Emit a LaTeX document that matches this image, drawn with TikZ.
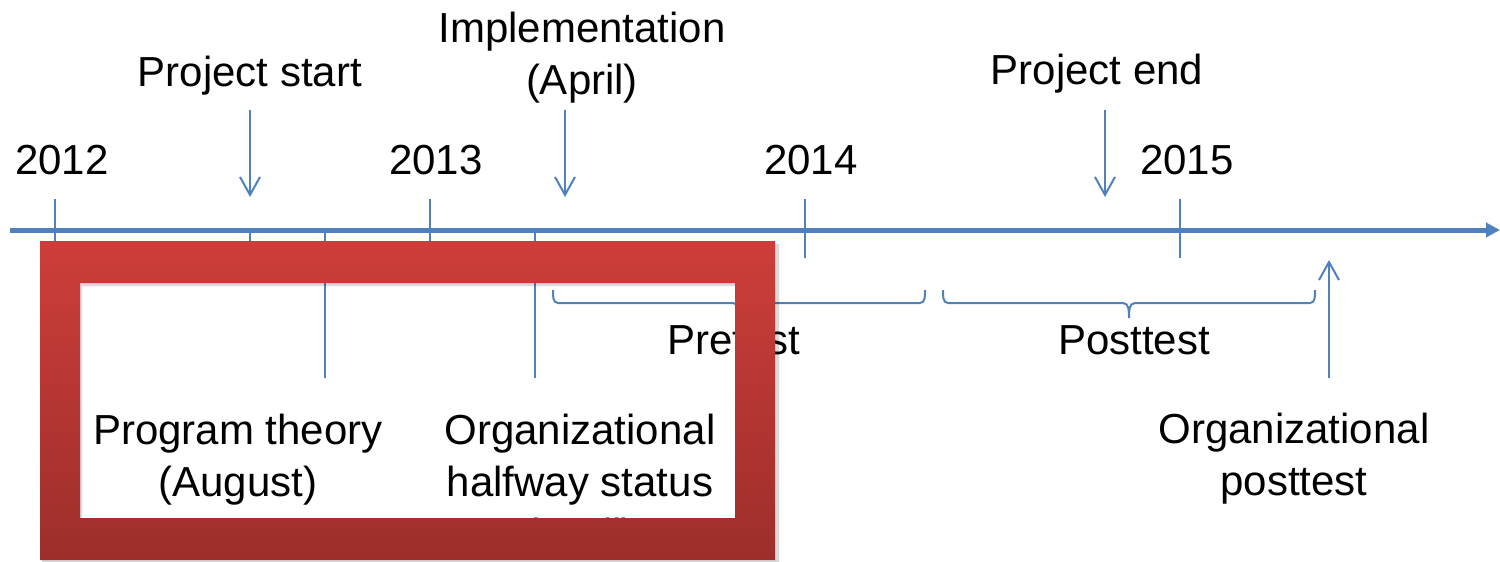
\documentclass[tikz,border=0pt]{standalone}
\usepackage{fontspec}
\setmainfont{Liberation Sans}
\usetikzlibrary{arrows.meta,calc}
\definecolor{lineblue}{HTML}{4F81BD}
\definecolor{frametop}{HTML}{CD3E3A}
\definecolor{framebot}{HTML}{9D2E2B}

\begin{document}
\begin{tikzpicture}[x=0.5pt,y=-0.5pt,
  lbl/.style={font=\fontsize{21}{26}\selectfont, align=center, inner sep=0pt},
  tick/.style={draw=lineblue, line width=1pt},
  pointer/.style={draw=lineblue, line width=1pt, -{Straight Barb[length=9pt,width=10pt]}},
  span/.style={draw=lineblue, line width=1pt}]
 \useasboundingbox (0,0) rectangle (1500,562);

 % time axis
 \coordinate (axisL) at (10,230);
 \coordinate (axisR) at (1500,230);
 \draw[lineblue, line width=2.5pt, -{Triangle[length=7pt,width=7pt]}] (axisL) -- (axisR);

 % years
 \node[lbl] (y2012) at (62,160) {2012};
 \node[lbl] (y2013) at (436,160) {2013};
 \node[lbl] (y2014) at (811,160) {2014};
 \node[lbl] (y2015) at (1187,160) {2015};
 \foreach \n/\x in {2012/55, 2013/430, 2014/805, 2015/1180}{
   \coordinate (t\n a) at (\x,199);
   \coordinate (t\n b) at (\x,258);
   \draw[tick] (t\n a) -- (t\n b);
 }

 % events above the axis
 \node[lbl] (start) at (250,76) {Project start};
 \node[lbl] (impl) at (582,58) {Implementation\\(April)};
 \node[lbl] (finish) at (1097,74) {Project end};
 \coordinate (startA) at (250,110);  \coordinate (startB) at (250,197);
 \coordinate (implA) at (565,110);   \coordinate (implB) at (565,197);
 \coordinate (finishA) at (1105,110); \coordinate (finishB) at (1105,197);
 \draw[pointer] (startA) -- (startB);
 \draw[pointer] (implA) -- (implB);
 \draw[pointer] (finishA) -- (finishB);

 % events below the axis
 \coordinate (startC) at (250,230); \coordinate (startD) at (250,258);
 \draw[tick] (startC) -- (startD);
 \coordinate (theoryA) at (325,230); \coordinate (theoryB) at (325,378);
 \coordinate (halfA) at (535,230);   \coordinate (halfB) at (535,378);
 \draw[tick] (theoryA) -- (theoryB);
 \draw[tick] (halfA) -- (halfB);
 \node[lbl] (theory) at (238,460) {Program theory\\(August)};
 \node[lbl] (half) at (580,486) {Organizational\\halfway status\\(April)};
 \coordinate (orgA) at (1329,378); \coordinate (orgB) at (1329,260);
 \draw[pointer] (orgA) -- (orgB);
 \node[lbl] (org) at (1294,459) {Organizational\\posttest};

 % measurement periods (braces)
 \coordinate (preL) at (553,290);  \coordinate (preM) at (739,318); \coordinate (preR) at (925,290);
 \coordinate (postL) at (943,290); \coordinate (postM) at (1129,318); \coordinate (postR) at (1315,290);
 \foreach \p in {pre,post}{
   \draw[span] (\p L) to[out=-90,in=180] ($(\p L)+(5,13)$)
     -- ($(\p M)+(-6,-15)$) to[out=0,in=90] (\p M)
     to[out=90,in=180] ($(\p M)+(6,-15)$)
     -- ($(\p R)+(-5,13)$) to[out=0,in=-90] (\p R);
 }
 \node[lbl] (pre) at (734,340) {Pretest};
 \node[lbl] (post) at (1134,340) {Posttest};

 % highlight frame
 \fill[black, opacity=0.15, even odd rule] (42,244) rectangle (779,563) (82,286) rectangle (737,521);
 \shade[top color=frametop, bottom color=framebot, even odd rule]
   (40,241) rectangle (775,560) (80,283) rectangle (735,518);
\end{tikzpicture}
\end{document}
